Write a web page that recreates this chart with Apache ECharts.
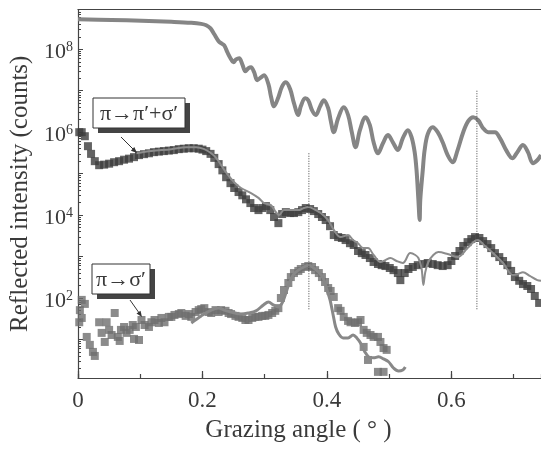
<!DOCTYPE html>
<html><head><meta charset="utf-8">
<script src="https://cdn.jsdelivr.net/npm/echarts@6/dist/echarts.min.js"></script>
<style>html,body{margin:0;padding:0;background:#fff}#c{width:541px;height:452px}</style>
</head><body><div id="c"></div>
<script>
// Grazing angle (deg) vs reflected intensity (counts)
const specular = [[0,5.3e8],[0.054,5.1e8],[0.102,4.9e8],[0.150,4.6e8],[0.182,4.35e8],[0.198,4.1e8],[0.206,3.8e8],[0.213,3.2e8],[0.219,2.3e8],[0.226,1.56e8],[0.230,1.4e8],[0.235,1.25e8],[0.240,8.5e7],[0.245,6.1e7],[0.250,4.9e7],[0.254,5.7e7],[0.259,6.1e7],[0.264,4.35e7],[0.269,2.95e7],[0.274,3.5e7],[0.278,3.7e7],[0.283,2.8e7],[0.288,1.8e7],[0.294,2.1e7],[0.299,2.36e7],[0.306,1.44e7],[0.310,7.4e6],[0.315,4.2e6],[0.322,7.0e6],[0.328,1.28e7],[0.334,1.6e7],[0.341,1.09e7],[0.347,5.0e6],[0.354,2.6e6],[0.358,4.2e6],[0.365,6.6e6],[0.370,5.9e6],[0.376,3.4e6],[0.382,2.6e6],[0.389,4.2e6],[0.395,5.9e6],[0.402,3.8e6],[0.406,1.95e6],[0.411,1.0e6],[0.418,2.17e6],[0.427,4.0e6],[0.434,2.6e6],[0.440,1.0e6],[0.446,4.35e5],[0.453,1.12e6],[0.462,2.3e6],[0.469,1.48e6],[0.475,5.7e5],[0.482,3.1e5],[0.490,5.4e5],[0.498,8.5e5],[0.506,5.7e5],[0.514,3.7e5],[0.522,7.2e5],[0.530,1.12e6],[0.536,7.6e5],[0.541,3.3e5],[0.544,1.21e5],[0.547,2.3e4],[0.549,7.6e3],[0.550,2.3e4],[0.554,1.21e5],[0.557,3.7e5],[0.562,9.0e5],[0.570,1.32e6],[0.578,1.0e6],[0.586,5.7e5],[0.594,2.8e5],[0.602,1.89e5],[0.610,3.7e5],[0.619,1.0e6],[0.627,1.84e6],[0.635,2.3e6],[0.643,1.95e6],[0.651,1.25e6],[0.659,1.0e6],[0.670,1.0e6],[0.678,7.2e5],[0.688,3.7e5],[0.698,2.36e5],[0.706,3.3e5],[0.715,4.9e5],[0.723,3.3e5],[0.731,1.79e5],[0.738,2.1e5],[0.744,2.8e5]];

const piPiSigmaData = [[0.002,1.0e6],[0.006,1.0e6],[0.011,8.0e5],[0.016,4.6e5],[0.021,3.0e5],[0.027,2.0e5],[0.034,1.6e5],[0.042,1.65e5],[0.050,1.74e5],[0.058,1.89e5],[0.066,2.0e5],[0.074,2.17e5],[0.082,2.3e5],[0.090,2.5e5],[0.098,2.8e5],[0.106,2.95e5],[0.114,3.1e5],[0.122,3.3e5],[0.130,3.4e5],[0.138,3.5e5],[0.146,3.6e5],[0.154,3.7e5],[0.162,3.9e5],[0.170,4.0e5],[0.178,4.1e5],[0.186,4.1e5],[0.194,4.0e5],[0.200,3.8e5],[0.206,3.5e5],[0.213,3.0e5],[0.219,2.4e5],[0.226,1.7e5],[0.232,1.2e5],[0.238,8.2e4],[0.245,5.9e4],[0.251,4.5e4],[0.258,3.6e4],[0.264,3.0e4],[0.270,2.4e4],[0.277,1.95e4],[0.283,1.48e4],[0.290,1.32e4],[0.296,1.48e4],[0.302,1.65e4],[0.309,1.32e4],[0.315,9.0e3],[0.322,6.4e3],[0.328,1.06e4],[0.334,1.18e4],[0.341,1.12e4],[0.347,1.12e4],[0.354,1.18e4],[0.360,1.32e4],[0.366,1.48e4],[0.373,1.4e4],[0.379,1.25e4],[0.386,1.06e4],[0.392,9.0e3],[0.398,7.6e3],[0.405,5.4e3],[0.411,3.3e3],[0.418,2.95e3],[0.424,2.8e3],[0.430,2.5e3],[0.437,2.1e3],[0.443,1.9e3],[0.450,1.36e3],[0.456,1.21e3],[0.462,1.09e3],[0.469,920],[0.475,740],[0.482,660],[0.488,620],[0.494,590],[0.501,530],[0.507,470],[0.514,400],[0.518,270],[0.525,400],[0.531,500],[0.538,560],[0.546,620],[0.554,660],[0.562,700],[0.570,660],[0.578,620],[0.586,590],[0.594,620],[0.600,780],[0.606,1.03e3],[0.613,1.36e3],[0.619,1.8e3],[0.626,2.23e3],[0.632,2.64e3],[0.638,2.95e3],[0.645,2.8e3],[0.651,2.36e3],[0.658,2.0e3],[0.664,1.6e3],[0.670,1.21e3],[0.677,970],[0.683,780],[0.690,620],[0.696,450],[0.702,320],[0.709,260],[0.715,217],[0.722,195],[0.728,165],[0.734,112],[0.741,76]];

const piPiSigmaFit = [[0.094,3.1e5],[0.118,3.5e5],[0.150,3.9e5],[0.174,4.35e5],[0.190,4.35e5],[0.203,3.9e5],[0.214,3.1e5],[0.222,2.4e5],[0.230,1.6e5],[0.240,9.7e4],[0.251,6.2e4],[0.262,4.5e4],[0.278,3.4e4],[0.290,2.6e4],[0.299,1.95e4],[0.310,1.74e4],[0.318,1.18e4],[0.323,1.0e4],[0.331,1.32e4],[0.342,1.32e4],[0.354,1.32e4],[0.363,1.48e4],[0.370,1.56e4],[0.379,1.4e4],[0.390,1.12e4],[0.402,7.6e3],[0.411,4.4e3],[0.422,2.95e3],[0.434,3.3e3],[0.442,2.5e3],[0.450,2.1e3],[0.458,1.6e3],[0.466,1.6e3],[0.475,1.09e3],[0.486,740],[0.494,820],[0.502,920],[0.512,780],[0.522,700],[0.534,1.21e3],[0.542,1.09e3],[0.547,920],[0.552,530],[0.555,206],[0.558,420],[0.563,740],[0.571,1.09e3],[0.579,1.28e3],[0.594,1.15e3],[0.610,970],[0.626,1.6e3],[0.642,2.5e3],[0.654,1.8e3],[0.667,1.21e3],[0.683,700],[0.699,360],[0.707,380],[0.715,420],[0.726,340],[0.738,270],[0.744,260]];

const piSigmaData = [[0.002,26],[0.003,51],[0.006,90],[0.006,33],[0.011,72],[0.014,11.5],[0.019,7.4],[0.024,5.0],[0.027,4.0],[0.034,26],[0.038,14.4],[0.043,8.7],[0.046,26],[0.050,17],[0.054,12.8],[0.059,43.5],[0.064,11.5],[0.067,9.2],[0.069,17],[0.074,20],[0.078,14.4],[0.083,17],[0.088,22.3],[0.090,10.3],[0.093,20],[0.098,9.7],[0.102,29.5],[0.107,22.3],[0.114,20],[0.118,26],[0.123,29.5],[0.130,25],[0.134,33],[0.139,26],[0.146,35],[0.150,35],[0.155,39],[0.162,41],[0.166,43.5],[0.173,37],[0.178,41],[0.182,35],[0.189,46],[0.194,51],[0.198,54],[0.203,57],[0.210,46],[0.214,43.5],[0.221,51],[0.226,46],[0.230,51],[0.237,49],[0.242,43.5],[0.246,41],[0.253,37],[0.258,35],[0.264,33],[0.269,29.5],[0.274,29.5],[0.280,33],[0.285,35],[0.290,35],[0.296,37],[0.301,37],[0.306,39],[0.312,43.5],[0.317,49],[0.322,57],[0.326,100],[0.331,156],[0.338,230],[0.342,320],[0.347,400],[0.354,450],[0.358,500],[0.365,560],[0.370,590],[0.376,560],[0.381,470],[0.387,400],[0.392,320],[0.397,243],[0.402,174],[0.406,148],[0.411,106],[0.418,57],[0.422,49],[0.427,35],[0.434,28],[0.438,26],[0.445,25],[0.450,26],[0.454,29.5],[0.459,17],[0.464,14.4],[0.470,12.8],[0.475,11.5],[0.482,11.5],[0.486,8.7],[0.491,6.2],[0.496,5.6],[0.459,6.6],[0.466,3.2],[0.482,1.65],[0.491,1.65]];

const piSigmaFit = [[0.182,25],[0.198,37],[0.214,51],[0.226,57],[0.235,51],[0.246,46],[0.262,41],[0.274,43.5],[0.286,49],[0.298,68],[0.306,80],[0.314,68],[0.322,61],[0.328,76],[0.333,118],[0.339,217],[0.346,360],[0.354,470],[0.363,560],[0.371,620],[0.379,530],[0.387,420],[0.394,300],[0.400,156],[0.405,90],[0.410,39],[0.414,20],[0.419,13.6],[0.426,10.9],[0.434,10.9],[0.442,12.8],[0.448,10.9],[0.454,8.2],[0.461,5.0],[0.467,3.8],[0.475,3.6],[0.483,3.8],[0.491,3.4],[0.499,2.9],[0.507,2.05],[0.515,1.74],[0.522,1.84],[0.526,2.17]];

const guideAngles = [0.371, 0.641];
const guideTop = [3.1e5, 1.0e7];
const guideBottom = [50, 50];

const xTickValues = [0, 0.2, 0.4, 0.6];
const xTickLabels = ['0', '0.2', '0.4', '0.6'];
const yLabelExponents = [2, 4, 6, 8];
const yMajorExponents = [1, 2, 3, 4, 5, 6, 7, 8];

const Y_MIN = 0.07, Y_MAX = 8.96; // log10(counts)
const toLog = arr => arr.map(p => [p[0], Math.log10(p[1])]);
const minorVals = [];
for (let n = 0; n <= 8; n++) for (let k = 2; k <= 9; k++) {
  const v = n + Math.log10(k);
  if (v > Y_MIN && v < Y_MAX) minorVals.push(v);
}
const FONT = 'Liberation Serif';
const AX = '#444', TXT = '#3a3a3a';

const guideSeries = guideAngles.map((a, i) => ({
  type: 'line', xAxisIndex: 0, yAxisIndex: 0, z: 5, silent: true, showSymbol: false,
  data: toLog([[a, guideTop[i]], [a, guideBottom[i]]]),
  lineStyle: { color: '#444', width: 1, type: [1, 1.5] }
}));

const chart = echarts.init(document.getElementById('c'), null, { renderer: 'canvas' });
chart.setOption({
  animation: false,
  backgroundColor: '#fff',
  grid: { left: 76, right: 0, top: 9.5, bottom: 74 },
  xAxis: [
    { type: 'value', min: 0, max: 0.744, position: 'bottom',
      axisLine: { lineStyle: { color: AX, width: 1.2 } },
      axisTick: { inside: true, length: 7, lineStyle: { color: AX, width: 1.2 }, customValues: xTickValues },
      axisLabel: { customValues: xTickValues, margin: 11, fontFamily: FONT, fontSize: 23, color: TXT,
        formatter: v => { const i = xTickValues.findIndex(t => Math.abs(t - v) < 1e-6); return i >= 0 ? xTickLabels[i] : ''; } },
      splitLine: { show: false },
      name: 'Grazing angle ( ° )', nameLocation: 'middle', nameGap: 40,
      nameTextStyle: { fontFamily: FONT, fontSize: 25, color: TXT, padding: [0, 22, 0, 0] } },
    { type: 'value', min: 0, max: 0.744, interval: 0.1, position: 'bottom',
      axisLine: { show: false },
      axisTick: { inside: true, length: 4, lineStyle: { color: AX, width: 1.2 } },
      axisLabel: { show: false }, splitLine: { show: false } },
    { type: 'value', min: 0, max: 0.744, position: 'top',
      axisLine: { lineStyle: { color: AX, width: 1.2 } },
      axisTick: { show: false }, axisLabel: { show: false }, splitLine: { show: false } }
  ],
  yAxis: [
    { type: 'value', min: Y_MIN, max: Y_MAX, position: 'left',
      axisLine: { lineStyle: { color: AX, width: 1.2 } },
      axisTick: { inside: true, length: 5, lineStyle: { color: AX, width: 1 }, customValues: yMajorExponents },
      axisLabel: { customValues: yLabelExponents, margin: 5, color: TXT, padding: [6, 0, 0, 0],
        formatter: v => '{b|10}{s|' + Math.round(v) + '}',
        rich: { b: { fontFamily: FONT, fontSize: 22, color: TXT, lineHeight: 22 },
                s: { fontFamily: FONT, fontSize: 14, color: TXT, lineHeight: 14, padding: [0, 0, 10, 0] } } },
      splitLine: { show: false },
      name: 'Reflected intensity (counts)', nameLocation: 'middle', nameGap: 45, nameRotate: 90,
      nameTextStyle: { fontFamily: FONT, fontSize: 25, color: TXT } },
    { type: 'value', min: Y_MIN, max: Y_MAX, position: 'left',
      axisLine: { show: false },
      axisTick: { inside: true, length: 3, lineStyle: { color: AX, width: 1 }, customValues: minorVals },
      axisLabel: { show: false }, splitLine: { show: false } }
  ],
  series: [
    { type: 'scatter', name: 'π→σ′ data', data: toLog(piSigmaData), symbol: 'rect', symbolSize: 8,
      itemStyle: { color: '#6e6e6e' }, z: 2 },
    { type: 'scatter', name: 'π→π′+σ′ data', data: toLog(piPiSigmaData), symbol: 'rect', symbolSize: 8,
      itemStyle: { color: '#3c3c3c' }, z: 2 },
    { type: 'line', name: 'specular', data: toLog(specular), showSymbol: false, smooth: 0.35,
      lineStyle: { color: '#858585', width: 4 }, z: 3 },
    { type: 'line', name: 'π→π′+σ′ fit', data: toLog(piPiSigmaFit), showSymbol: false, smooth: 0.35,
      lineStyle: { color: '#8c8c8c', width: 2 }, z: 4 },
    { type: 'line', name: 'π→σ′ fit', data: toLog(piSigmaFit), showSymbol: false, smooth: 0.35,
      lineStyle: { color: '#888888', width: 3 }, z: 4 },
    ...guideSeries
  ],
  graphic: [
    { type: 'rect', z: 100, shape: { x: 98, y: 103, width: 92, height: 30 }, style: { fill: '#444' } },
    { type: 'rect', z: 101, shape: { x: 93, y: 98, width: 92, height: 30 }, style: { fill: '#fff', stroke: '#333', lineWidth: 1 } },
    { type: 'text', z: 102, x: 139, y: 114, style: { text: 'π→π′+σ′', font: '22px ' + FONT, fill: TXT, align: 'center', verticalAlign: 'middle' } },
    { type: 'line', z: 102, shape: { x1: 121, y1: 137, x2: 134, y2: 150 }, style: { stroke: '#333', lineWidth: 1 } },
    { type: 'polygon', z: 102, shape: { points: [[137, 153], [130.9, 150.7], [134.3, 147.1]] }, style: { fill: '#333' } },
    { type: 'rect', z: 100, shape: { x: 97, y: 269, width: 58, height: 30 }, style: { fill: '#444' } },
    { type: 'rect', z: 101, shape: { x: 92, y: 264, width: 58, height: 30 }, style: { fill: '#fff', stroke: '#333', lineWidth: 1 } },
    { type: 'text', z: 102, x: 121, y: 280, style: { text: 'π→σ′', font: '22px ' + FONT, fill: TXT, align: 'center', verticalAlign: 'middle' } },
    { type: 'line', z: 102, shape: { x1: 130, y1: 300, x2: 139.5, y2: 313.5 }, style: { stroke: '#333', lineWidth: 1 } },
    { type: 'polygon', z: 102, shape: { points: [[142, 317], [136.5, 313.5], [140.5, 310.7]] }, style: { fill: '#333' } }
  ]
});
</script>
</body></html>
